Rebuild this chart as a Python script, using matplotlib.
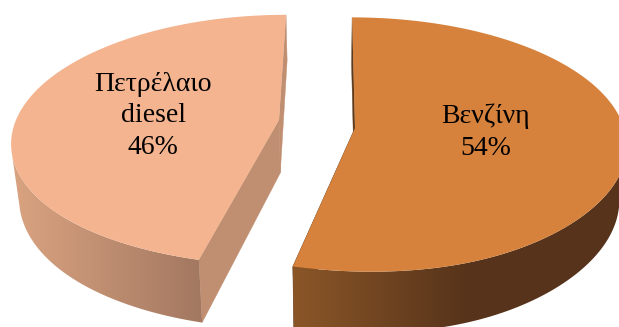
import numpy as np
import matplotlib
matplotlib.use("Agg")
import matplotlib.pyplot as plt
from matplotlib.colors import to_rgb
from matplotlib.patches import Polygon

# ==============================
# 1. Data
# ==============================
labels = ["Βενζίνη", "Πετρέλαιο\ndiesel"]
values = [54, 46]

top_colors = ["#D6823C", "#F4B48F"]
side_left = ["#8A5628", "#D8A280"]   # outer wall colour at the left end
side_right = ["#56331A", "#A27760"]  # outer wall colour at the right end
wall_colors = ["#5E3A1C", "#C08E70"]

# ==============================
# 2. Perspective helpers
# ==============================
VX = 330.0     # x of the vanishing line
DEPTH = 53.0   # pie thickness
SHRINK = 0.975 # scale of the lower rim

# per slice: apex, horizontal radius, vertical radius, perspective, rim lean
apex_xy = [(355.0, 128.0), (279.0, 120.0)]
radius_x = [269.0, 263.0]
radius_y = [125.0, 122.0]
persp = [0.13, 0.16]
rim_lean = [13.0, 8.0]
grad_span = [(295, 470), (18, 205)]


def rim_point(theta, i, lower=False):
    # theta runs clockwise from twelve o'clock
    X, Y = np.sin(theta), np.cos(theta)
    f = 1.0 / (1.0 + persp[i] * Y)
    x = VX + (apex_xy[i][0] - VX + radius_x[i] * X) * f + rim_lean[i] * np.clip(-Y, 0, 1) ** 6
    y = apex_xy[i][1] - radius_y[i] * Y * f
    if lower:
        x = VX + (x - VX) * SHRINK
        y = y + DEPTH * f
    return x, y


def apex_point(i, lower=False):
    x, y = apex_xy[i]
    if lower:
        return VX + (x - VX) * SHRINK, y + DEPTH
    return x, y


# ==============================
# 3. Drawing
# ==============================
fig = plt.figure(figsize=(6.19, 3.27), dpi=100)
ax = fig.add_axes([0, 0, 1, 1])

angles = np.cumsum([0] + values) / sum(values) * 2 * np.pi

for i in range(len(values)):
    t = np.linspace(angles[i], angles[i + 1], 400)
    xt, yt = rim_point(t, i)
    xb, yb = rim_point(t, i, lower=True)
    ax0, ay0 = apex_point(i)
    ax1, ay1 = apex_point(i, lower=True)

    # flat cut walls go in first
    for k in (0, -1):
        ax.fill([ax0, xt[k], xb[k], ax1], [ay0, yt[k], yb[k], ay1],
                color=wall_colors[i], lw=0.3, zorder=2)

    # outer wall only runs as far as the silhouette tangent on each side
    tang = xt - (xb - xt) / (yb - yt) * yt
    if xt.mean() > VX:
        keep = np.arange(len(t)) >= np.argmax(tang)
    else:
        keep = np.arange(len(t)) <= np.argmin(tang)
    band = Polygon(np.c_[np.r_[xt[keep], xb[keep][::-1]], np.r_[yt[keep], yb[keep][::-1]]],
                   transform=ax.transData, facecolor="none", edgecolor="none")
    ax.add_patch(band)

    # horizontal gradient clipped to the rim band, flat past the ramp ends
    ramp = np.linspace(0, 1, 256)[None, :, None]
    c0, c1 = np.array(to_rgb(side_left[i])), np.array(to_rgb(side_right[i]))
    lo, hi = grad_span[i]
    img = ax.imshow(c0 + (c1 - c0) * ramp, extent=(lo, hi, 327, 0), aspect="auto",
                    zorder=3, interpolation="bilinear")
    img.set_clip_path(band)
    for x_a, x_b, c in ((-10, lo, c0), (hi, 640, c1)):
        strip = ax.fill([x_a, x_b, x_b, x_a], [0, 0, 327, 327], color=c, lw=0, zorder=3)[0]
        strip.set_clip_path(band)

    ax.fill(np.r_[ax0, xt], np.r_[ay0, yt], color=top_colors[i], lw=0, zorder=4)

font = dict(family="Liberation Serif", fontsize=20, color="black",
            ha="center", va="center", zorder=5, linespacing=1.36)
ax.text(486, 132, f"{labels[0]}\n{values[0]}%", **font)
ax.text(153, 116, f"{labels[1]}\n{values[1]}%", **font)

ax.set_xlim(0, 619)
ax.set_ylim(327, 0)
ax.axis("off")

fig.savefig("out.png", dpi=100)
